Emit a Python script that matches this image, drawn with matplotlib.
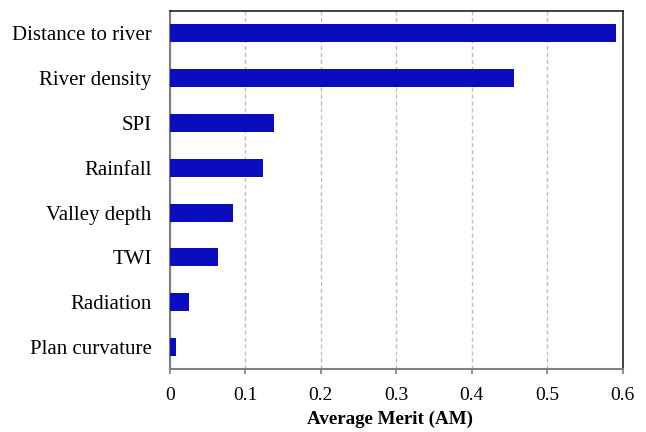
import matplotlib.pyplot as plt
import numpy as np

factors = ["Distance to river", "River density", "SPI", "Rainfall",
           "Valley depth", "TWI", "Radiation", "Plan curvature"]
average_merit = [0.591, 0.456, 0.138, 0.123, 0.084, 0.064, 0.025, 0.008]
xticks = [0, 0.1, 0.2, 0.3, 0.4, 0.5, 0.6]
xtick_labels = ["0", "0.1", "0.2", "0.3", "0.4", "0.5", "0.6"]

plt.rcParams["font.family"] = ["Liberation Serif", "DejaVu Serif"]

fig = plt.figure(figsize=(6.46, 4.32), dpi=100)
ax = fig.add_axes([0.263, 0.145, 0.701, 0.8295])

y = np.arange(len(factors))
ax.barh(y, average_merit, height=0.4, color="#0c0cbf", zorder=3)

ax.set_ylim(len(factors) - 0.5, -0.5)
ax.set_xlim(0, 0.6)
ax.set_yticks(y)
ax.set_yticklabels(factors, fontsize=15)
ax.set_xticks(xticks)
ax.set_xticklabels(xtick_labels, fontsize=14)
ax.tick_params(axis="y", length=0, pad=13)
ax.tick_params(axis="x", length=3.5, width=1.2, pad=9, color="#808080")

ax.grid(axis="x", linestyle=(0, (3, 2)), color="#c0c0c0", linewidth=1, zorder=0)

for side in ("left", "bottom"):
    ax.spines[side].set_color("#808080")
    ax.spines[side].set_linewidth(1.5)
for side in ("top", "right"):
    ax.spines[side].set_color("#222222")
    ax.spines[side].set_linewidth(1.2)

ax.set_xlabel("Average Merit (AM)", fontsize=13.7, fontweight="bold")
ax.xaxis.set_label_coords(0.486, -0.115)

fig.savefig("out.png", dpi=100)
